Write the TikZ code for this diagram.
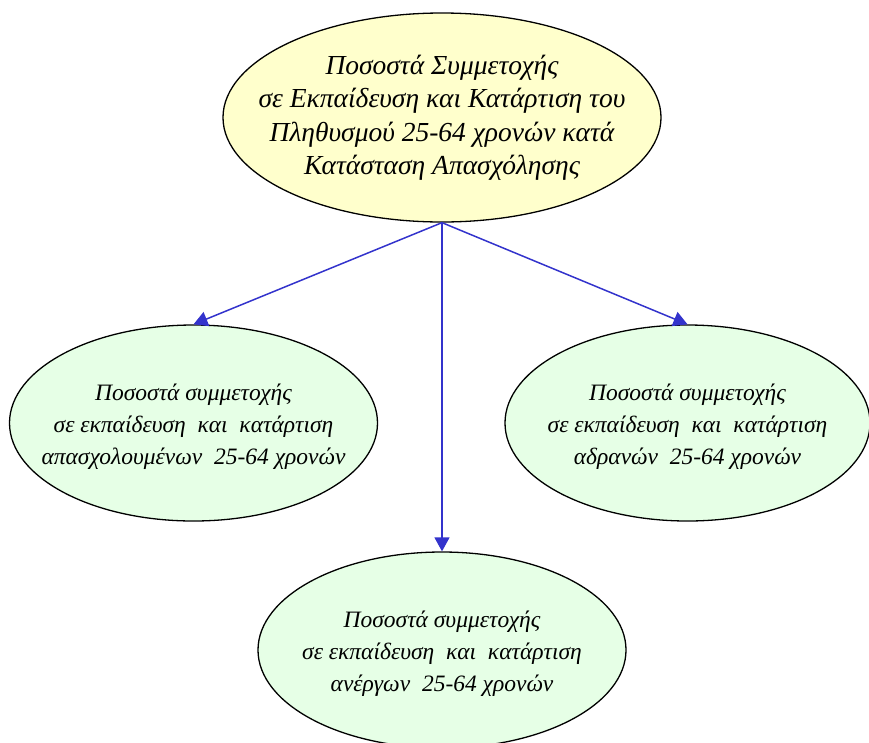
\documentclass[tikz,border=0pt]{standalone}
\usepackage{fontspec}
\setmainfont{Liberation Serif}
\usetikzlibrary{arrows.meta,shapes.geometric}
\definecolor{topfill}{RGB}{255,255,204}
\definecolor{subfill}{RGB}{230,255,230}
\definecolor{arrowblue}{RGB}{51,51,204}
\tikzset{
  topbox/.style={draw=black, line width=1.3pt, fill=topfill, ellipse, inner sep=0pt,
    minimum width=438pt, minimum height=209pt},
  subbox/.style={draw=black, line width=1.3pt, fill=subfill, ellipse, inner sep=0pt,
    minimum width=368pt, minimum height=196pt},
  toptext/.style={align=center, inner sep=0pt, font=\itshape\fontsize{27.5}{33.5}\selectfont},
  subtext/.style={align=center, inner sep=0pt, yshift=-4pt, font=\itshape\fontsize{23.5}{32}\selectfont},
  link/.style={draw=arrowblue, line width=1.5pt, -{Triangle[length=14pt,width=15pt]}}
}
\begin{document}
\begin{tikzpicture}[x=1pt,y=-1pt]
\useasboundingbox (0,0) rectangle (869,742);
\clip (0,0) rectangle (869,742);
\node[topbox] (top) at (442,117.5) {};
\node[toptext] (toptxt) at (top) {Ποσοστά Συμμετοχής\\σε Εκπαίδευση και Κατάρτιση του\\Πληθυσμού 25-64 χρονών κατά\\Κατάσταση Απασχόλησης};
\node[subbox] (left) at (193.5,423) {};
\node[subtext] (lefttxt) at (left) {Ποσοστά συμμετοχής\\σε εκπαίδευση\ \ και\ \ κατάρτιση\\απασχολουμένων\ \ 25-64 χρονών};
\node[subbox, minimum width=365pt] (right) at (687.5,423) {};
\node[subtext] (righttxt) at (right) {Ποσοστά συμμετοχής\\σε εκπαίδευση\ \ και\ \ κατάρτιση\\αδρανών\ \ 25-64 χρονών};
\node[subbox] (bottom) at (442,650) {};
\node[subtext] (bottomtxt) at (bottom) {Ποσοστά συμμετοχής\\σε εκπαίδευση\ \ και\ \ κατάρτιση\\ανέργων\ \ 25-64 χρονών};
\coordinate (src) at (top.south);
\draw[link] (src) -- (left.north);
\draw[link] (src) -- (bottom.north);
\draw[link] (src) -- (right.north);
\end{tikzpicture}
\end{document}
